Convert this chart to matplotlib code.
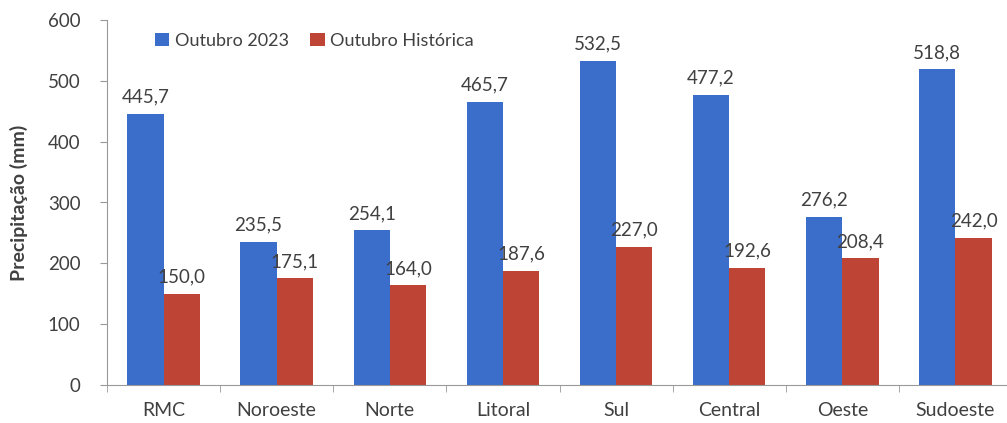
import numpy as np
import matplotlib
matplotlib.use('Agg')
import matplotlib.pyplot as plt

regioes = ['RMC', 'Noroeste', 'Norte', 'Litoral', 'Sul', 'Central', 'Oeste', 'Sudoeste']
out_2023 = [445.7, 235.5, 254.1, 465.7, 532.5, 477.2, 276.2, 518.8]
out_hist = [150.0, 175.1, 164.0, 187.6, 227.0, 192.6, 208.4, 242.0]

azul = '#3B6DCB'
vermelho = '#BE4536'
cinza_txt = '#404040'

plt.rcParams['font.family'] = ['Lato', 'DejaVu Sans']

fig = plt.figure(figsize=(10.07, 4.23), dpi=100)
ax = fig.add_axes([107/1007, 38/423, 905/1007, 365/423])

x = np.arange(len(regioes))
w = 0.32
b1 = ax.bar(x - w/2, out_2023, w, color=azul, label='Outubro 2023')
b2 = ax.bar(x + w/2, out_hist, w, color=vermelho, label='Outubro Histórica')

def fmt(v):
    return f'{v:.1f}'.replace('.', ',')

for bars, vals in ((b1, out_2023), (b2, out_hist)):
    for r, v in zip(bars, vals):
        ax.annotate(fmt(v), (r.get_x() + r.get_width()/2, v), xytext=(0, 6),
                    textcoords='offset points', ha='center', va='bottom',
                    fontsize=13.5, color=cinza_txt)

ax.set_xlim(-0.5, 7.5)
ax.set_ylim(0, 600)
ax.set_yticks(range(0, 601, 100))
ax.set_xticks(x)
ax.set_xticklabels(regioes, fontsize=14, color=cinza_txt)
ax.set_xticks(np.arange(-0.5, 8, 1), minor=True)
ax.tick_params(axis='x', which='major', length=0, pad=12)
ax.tick_params(axis='x', which='minor', length=5, color='#999999')
ax.tick_params(axis='y', length=5, color='#999999', labelsize=13.5, labelcolor=cinza_txt, pad=14)
for s in ['top', 'right']:
    ax.spines[s].set_visible(False)
for s in ['left', 'bottom']:
    ax.spines[s].set_color('#999999')

ax.set_ylabel('Precipitação (mm)', fontsize=14, fontweight='bold', color=cinza_txt, labelpad=14)

ax.legend(loc='upper left', bbox_to_anchor=(0.035, 1.01), ncol=2, frameon=False,
          fontsize=13, handlelength=0.8, handleheight=0.8, handletextpad=0.3,
          columnspacing=1.2, labelcolor=cinza_txt)

fig.savefig('out.png', dpi=100)
